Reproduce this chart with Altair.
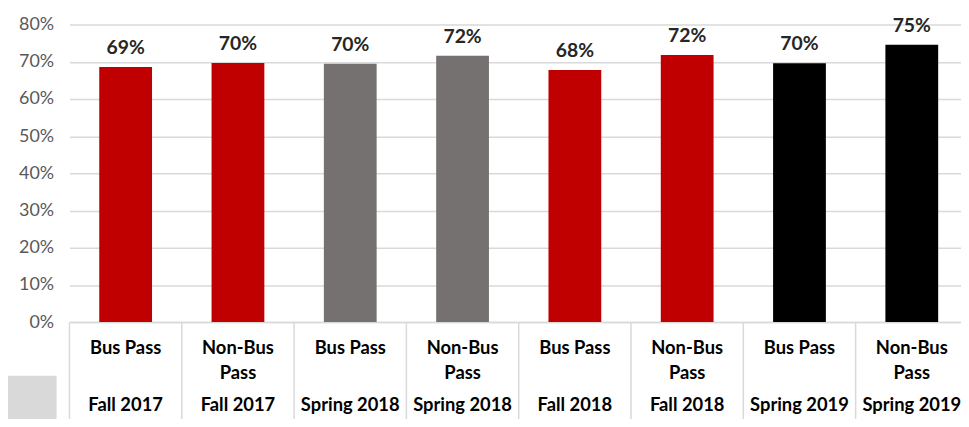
import altair as alt
import pandas as pd

# --- data ---
line1 = ["Bus Pass", "Non-Bus", "Bus Pass", "Non-Bus", "Bus Pass", "Non-Bus", "Bus Pass", "Non-Bus"]
line2 = ["", "Pass", "", "Pass", "", "Pass", "", "Pass"]
semesters = ["Fall 2017", "Fall 2017", "Spring 2018", "Spring 2018",
             "Fall 2018", "Fall 2018", "Spring 2019", "Spring 2019"]
values = [0.686, 0.697, 0.695, 0.716, 0.678, 0.718, 0.696, 0.746]

sem_domain = ["Fall 2017", "Spring 2018", "Fall 2018", "Spring 2019"]
sem_colors = ["#C00000", "#767171", "#C00000", "#000000"]

df = pd.DataFrame({
    "idx": list(range(len(values))),
    "line1": line1,
    "line2": line2,
    "semester": semesters,
    "value": values,
})

FONT = "Lato"
W, H = 899, 300
STEP = 906 / 8

x = alt.X(
    "idx:O", sort=None,
    scale=alt.Scale(range=[0, 906], paddingInner=0.53, paddingOuter=0.265),
    axis=alt.Axis(title=None, labels=False, ticks=False, domain=True,
                  domainColor="#d9d9d9", domainWidth=1.5),
)
y = alt.Y(
    "value:Q",
    scale=alt.Scale(domain=[0, 0.8]),
    axis=alt.Axis(title=None, format=".0%", values=[0, 0.1, 0.2, 0.3, 0.4, 0.5, 0.6, 0.7, 0.8],
                  domain=False, ticks=False, labelFontSize=18, labelColor="#595959",
                  labelFont=FONT, labelPadding=16, gridColor="#d9d9d9", gridWidth=1.5),
)

base = alt.Chart(df)

bars = base.mark_bar().encode(
    x=x, y=y,
    color=alt.Color("semester:N", scale=alt.Scale(domain=sem_domain, range=sem_colors), legend=None),
)

vlabels = base.mark_text(dy=-19, fontSize=19.5, fontWeight="bold", font=FONT, color="#262626").encode(
    x=x, y=y, text=alt.Text("value:Q", format=".0%")
)

# separators between category cells in the label area
seps = base.mark_rule(color="#d9d9d9", strokeWidth=1.5, xOffset=-STEP / 2).encode(
    x=x, y=alt.value(300), y2=alt.value(400)
)

txt = dict(fontSize=18.5, fontWeight="bold", font=FONT, color="#000000", baseline="middle")
cat1 = base.mark_text(**txt).encode(x=x, y=alt.value(326), text="line1:N")
cat2 = base.mark_text(**txt).encode(x=x, y=alt.value(351), text="line2:N")
cat3 = base.mark_text(**txt).encode(x=x, y=alt.value(384), text="semester:N")

deco = alt.Chart(pd.DataFrame({"a": [0]})).mark_rect(color="#d9d9d9").encode(
    x=alt.value(-62), x2=alt.value(-13), y=alt.value(354), y2=alt.value(400)
)

chart = alt.layer(deco, bars, seps, vlabels, cat1, cat2, cat3).properties(
    width=W, height=H,
    padding={"left": 62, "top": 15, "right": 0, "bottom": 96},
    autosize=alt.AutoSizeParams(type="none"),
).configure_view(stroke=None)

chart.save("out.html", embed_options={"renderer": "svg", "actions": False})
